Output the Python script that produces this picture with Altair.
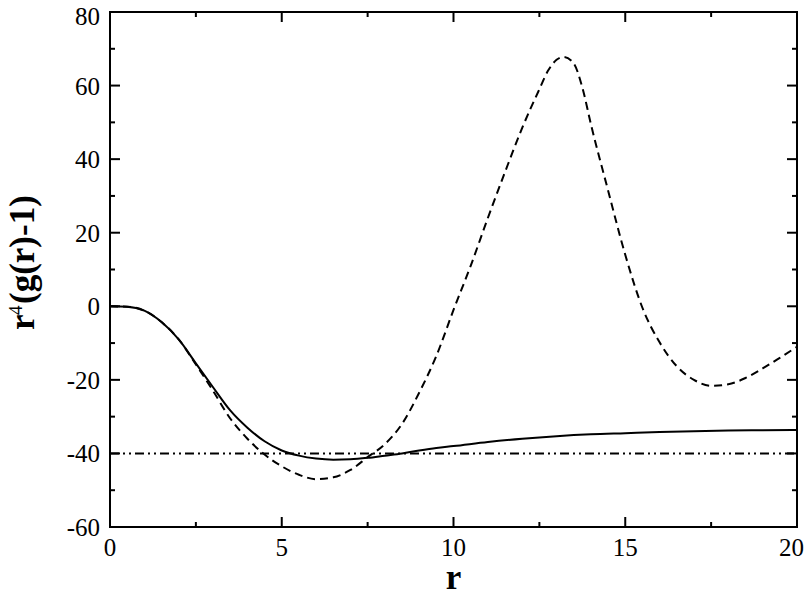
import altair as alt
import pandas as pd

# ---- data ----
r_solid = [0, 0.5, 1, 1.5, 2, 2.5, 3, 3.5, 4, 4.5, 5, 5.5, 6, 6.5, 7, 7.5, 8, 8.5, 9, 9.5,
           10, 11, 12, 13, 14, 15, 16, 17, 18, 19, 20]
y_solid = [0, -0.1, -1.2, -4.3, -9.0, -15.5, -22.0, -28.3, -33.0, -36.7, -39.2, -40.6, -41.4,
           -41.7, -41.6, -41.2, -40.6, -40.0, -39.2, -38.5, -38.0, -36.9, -36.0, -35.3, -34.8,
           -34.5, -34.2, -34.0, -33.8, -33.7, -33.6]

r_dashed = [0, 0.5, 1, 1.5, 2, 2.5, 3, 3.5, 4, 4.5, 5, 5.5, 6, 6.5, 7, 7.5, 8, 8.5, 9, 9.5,
            10, 10.5, 11, 11.5, 12, 12.5, 12.75, 13, 13.2, 13.5, 13.75, 14, 14.5, 15, 15.5,
            16, 16.5, 17, 17.5, 18, 18.5, 19, 19.5, 20]
y_dashed = [0, -0.1, -1.2, -4.3, -9.0, -15.8, -23.0, -30.5, -36.0, -40.3, -43.5, -45.8, -47.0,
            -46.5, -44.5, -41.0, -37.5, -32.0, -23.5, -13.5, -1.0, 11.0, 24.0, 36.5, 48.5,
            59.0, 64.0, 67.0, 67.8, 66.0, 59.5, 49.5, 31.5, 14.0, -0.4, -9.8, -16.3, -20.0,
            -21.6, -21.2, -19.5, -16.9, -14.0, -11.0]

r_ref = [0, 20]
y_ref = [-40, -40]

x_major = [0, 5, 10, 15, 20]
x_minor = [2.5, 7.5, 12.5, 17.5]
x_labels = ["0", "5", "10", "15", "20"]
y_major = [-60, -40, -20, 0, 20, 40, 60, 80]
y_minor = [-50, -30, -10, 10, 30, 50, 70]
y_labels = ["-60", "-40", "-20", "0", "20", "40", "60", "80"]

W, H = 687, 515
FONT = "Liberation Serif"

xs = alt.Scale(domain=[0, 20], nice=False, zero=False)
ys = alt.Scale(domain=[-60, 80], nice=False, zero=False)

solid_df = pd.DataFrame({"r": r_solid, "y": y_solid})
dashed_df = pd.DataFrame({"r": r_dashed, "y": y_dashed})
ref_df = pd.DataFrame({"r": r_ref, "y": y_ref})

solid = alt.Chart(solid_df).mark_line(color="black", strokeWidth=2, interpolate="monotone").encode(
    x=alt.X("r:Q", scale=xs, axis=None),
    y=alt.Y("y:Q", scale=ys, axis=None),
)
dashed = alt.Chart(dashed_df).mark_line(color="black", strokeWidth=2, strokeDash=[8, 5],
                                        interpolate="monotone").encode(
    x=alt.X("r:Q", scale=xs, axis=None),
    y=alt.Y("y:Q", scale=ys, axis=None),
)
ref = alt.Chart(ref_df).mark_line(color="black", strokeWidth=2,
                                  strokeDash=[9, 4, 2, 4, 2, 4]).encode(
    x=alt.X("r:Q", scale=xs, axis=None),
    y=alt.Y("y:Q", scale=ys, axis=None),
)


def xticks(vals, y0, y1):
    return alt.Chart(pd.DataFrame({"v": vals})).mark_rule(color="black", strokeWidth=2).encode(
        x=alt.X("v:Q", scale=xs, axis=None), y=alt.value(y0), y2=alt.value(y1))


def yticks(vals, x0, x1):
    return alt.Chart(pd.DataFrame({"v": vals})).mark_rule(color="black", strokeWidth=2).encode(
        y=alt.Y("v:Q", scale=ys, axis=None), x=alt.value(x0), x2=alt.value(x1))


ticks = [
    xticks(x_major, H, H - 10), xticks(x_minor, H, H - 5),
    xticks(x_major, 0, 10), xticks(x_minor, 0, 5),
    yticks(y_major, 0, 10), yticks(y_minor, 0, 5),
    yticks(y_major, W, W - 10), yticks(y_minor, W, W - 5),
]

xlab = alt.Chart(pd.DataFrame({"v": x_major[:-1], "t": x_labels[:-1]})).mark_text(
    font=FONT, fontSize=25, color="black", align="center", baseline="alphabetic").encode(
    x=alt.X("v:Q", scale=xs, axis=None), y=alt.value(H + 29), text="t:N")
# the last label sits at the page edge: keep it inside the picture
xlab_end = alt.Chart(pd.DataFrame({"v": x_major[-1:], "t": x_labels[-1:]})).mark_text(
    font=FONT, fontSize=25, color="black", align="right", baseline="alphabetic", dx=7).encode(
    x=alt.X("v:Q", scale=xs, axis=None), y=alt.value(H + 29), text="t:N")

ylab_df = pd.DataFrame({"v": y_major[:-1], "t": y_labels[:-1]})
ylab = alt.Chart(ylab_df).mark_text(
    font=FONT, fontSize=25, color="black", align="right", baseline="alphabetic", dy=9).encode(
    y=alt.Y("v:Q", scale=ys, axis=None), x=alt.value(-10), text="t:N")
ylab_top = alt.Chart(pd.DataFrame({"v": y_major[-1:], "t": y_labels[-1:]})).mark_text(
    font=FONT, fontSize=25, color="black", align="right", baseline="alphabetic", dy=13).encode(
    y=alt.Y("v:Q", scale=ys, axis=None), x=alt.value(-10), text="t:N")

xtitle = alt.Chart(pd.DataFrame({"t": ["r"]})).mark_text(
    font=FONT, fontSize=35, fontWeight="bold", color="black", align="center",
    baseline="alphabetic").encode(text="t:N", x=alt.value(W / 2), y=alt.value(577))

ytitle_r = alt.Chart(pd.DataFrame({"t": ["r"]})).mark_text(
    font=FONT, fontSize=35, fontWeight="bold", color="black", align="left",
    baseline="alphabetic", angle=270).encode(text="t:N", x=alt.value(-76), y=alt.value(318))
ytitle_sup = alt.Chart(pd.DataFrame({"t": ["4"]})).mark_text(
    font=FONT, fontSize=19, color="black", align="left",
    baseline="alphabetic", angle=270).encode(text="t:N", x=alt.value(-88), y=alt.value(303))
ytitle_rest = alt.Chart(pd.DataFrame({"t": ["(g(r)-1)"]})).mark_text(
    font=FONT, fontSize=35, fontWeight="bold", color="black", align="left",
    baseline="alphabetic", angle=270).encode(text="t:N", x=alt.value(-76), y=alt.value(292))

chart = alt.layer(solid, dashed, ref, *ticks, xlab, xlab_end, ylab, ylab_top, xtitle,
                  ytitle_r, ytitle_sup, ytitle_rest).properties(
    width=W, height=H,
    background="white",
    autosize=alt.AutoSizeParams(type="none"),
    padding={"left": 102, "top": 4, "right": 7, "bottom": 64},
).configure_view(stroke="black", strokeWidth=2)

chart.save("out.html", embed_options={"renderer": "svg", "actions": False})
